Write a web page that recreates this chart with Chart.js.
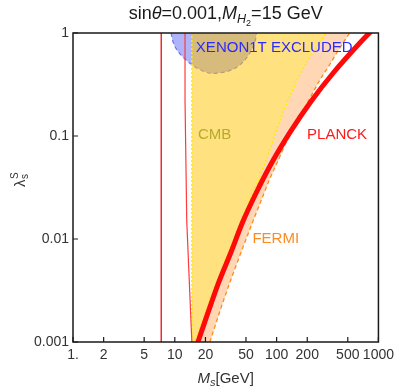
<!DOCTYPE html>
<html>
<head>
<meta charset="utf-8">
<script src="https://cdn.jsdelivr.net/npm/chart.js@4.4.0/dist/chart.umd.min.js"></script>
<style>
  html, body { margin: 0; padding: 0; background: #fff; }
  canvas { display: block; }
</style>
</head>
<body>
<canvas id="chart" width="399" height="388" style="width:399px;height:388px"></canvas>
<script>
const xTicks = [1, 2, 5, 10, 20, 50, 100, 200, 500, 1000];
const xTickLabels = ['1.', '2', '5', '10', '20', '50', '100', '200', '500', '1000'];
const yTicks = [0.001, 0.01, 0.1, 1];
const yTickLabels = ['0.001', '0.01', '0.1', '1'];

// PLANCK bound (thick red curve)
const planckX = [15.6, 16.86, 21.3, 27.1, 35.7, 46.4, 63.6, 90.4, 135.7, 215.8, 366, 670, 815, 1048];
const planckY = [0.0008, 0.001, 0.00196, 0.00383, 0.00748, 0.0146, 0.0286, 0.0559, 0.109, 0.214, 0.418, 0.818, 1.0, 1.28];

// CMB region: vertical left edge, curved right edge (bottom -> top)
const cmbEdge = 14.7;
const cmbX = [15.76, 22.1, 29.5, 45.2, 54.1, 66.2, 79.2, 92.7, 108.4, 129.7, 158.7, 203, 304];
const cmbY = [0.001, 0.00256, 0.00535, 0.0153, 0.0239, 0.0374, 0.0585, 0.0914, 0.143, 0.224, 0.350, 0.547, 1.0];

// FERMI edge (orange dashed, bottom -> top)
const fermiX = [22.1, 30.2, 39.5, 59.2, 70.8, 84.7, 104, 127, 162, 208, 266, 340, 405, 521];
const fermiY = [0.001, 0.00256, 0.00535, 0.0153, 0.0239, 0.0374, 0.0585, 0.0914, 0.143, 0.224, 0.350, 0.511, 0.684, 1.0];

// XENON1T excluded blob
const xenonX = [9.2, 9.62, 10.5, 12.0, 14.4, 17.2, 21.6, 27.0, 33.8, 42.3, 50.6, 57.9, 61.9, 63.3];
const xenonY = [1, 0.818, 0.684, 0.585, 0.500, 0.447, 0.409, 0.409, 0.428, 0.479, 0.572, 0.715, 0.855, 1];

// thin red lines
const wallX = [7.36, 7.36];
const wallY = [0.001, 1];
const thinX = [12.6, 12.6, 13.1, 14.7];
const thinY = [1, 0.22, 0.015, 0.001];

const labelText = ['XENON1T EXCLUDED', 'CMB', 'PLANCK', 'FERMI'];
const labelX = [16.1, 16.9, 199, 57.9];
const labelY = [0.715, 0.102, 0.102, 0.0100];
const labelColors = ['#2b2bff', '#b5ab2a', '#ff1a1a', '#ff8a1e'];

const FONT = '"Liberation Sans", Arial, sans-serif';
Chart.defaults.font.family = FONT;

function pts(xs, ys) {
  return xs.map((x, i) => ({ x: x, y: ys[i] }));
}

function series(data, opts) {
  return Object.assign({
    data: data,
    showLine: true,
    pointRadius: 0,
    pointHoverRadius: 0,
    borderWidth: 1.5,
    fill: false,
    clip: 0,
    tension: 0
  }, opts);
}

const yMin = yTicks[0], yMax = yTicks[yTicks.length - 1];
const xenonShape = pts(xenonX, xenonY);
const fermiShape = pts(cmbX, cmbY).concat(pts(fermiX, fermiY).reverse());
const cmbShape = [{ x: cmbEdge, y: yMin }, { x: cmbEdge, y: yMax }].concat(pts(cmbX, cmbY).reverse());

function fontOf(size, italic) {
  return (italic ? 'italic ' : '') + size + 'px ' + FONT;
}

// parts: [text, size, italic, shift]
function richText(ctx, parts, x, y) {
  let w = 0;
  parts.forEach(p => { ctx.font = fontOf(p[1], p[2]); w += ctx.measureText(p[0]).width; });
  let cx = x - w / 2;
  parts.forEach(p => {
    ctx.font = fontOf(p[1], p[2]);
    ctx.fillText(p[0], cx, y + (p[3] || 0));
    cx += ctx.measureText(p[0]).width;
  });
}

const decorations = {
  id: 'decorations',
  afterDatasetsDraw(chart) {
    const { ctx, chartArea: area, scales } = chart;
    const xs = scales.x, ys = scales.y;
    ctx.save();

    ctx.font = fontOf(15, false);
    ctx.textBaseline = 'middle';
    ctx.textAlign = 'left';
    labelText.forEach((t, i) => {
      ctx.fillStyle = labelColors[i];
      ctx.fillText(t, xs.getPixelForValue(labelX[i]), ys.getPixelForValue(labelY[i]));
    });

    // frame
    ctx.strokeStyle = '#1a1a1a';
    ctx.lineWidth = 1.5;
    ctx.strokeRect(area.left, area.top, area.right - area.left, area.bottom - area.top);

    // inward ticks
    ctx.lineWidth = 1.2;
    ctx.beginPath();
    xTicks.forEach(v => {
      const p = xs.getPixelForValue(v);
      ctx.moveTo(p, area.bottom);
      ctx.lineTo(p, area.bottom - 5);
    });
    yTicks.forEach(v => {
      const p = ys.getPixelForValue(v);
      ctx.moveTo(area.left, p);
      ctx.lineTo(area.left + 5, p);
    });
    ctx.stroke();

    // titles
    ctx.fillStyle = '#1a1a1a';
    ctx.textBaseline = 'alphabetic';
    const cx = (area.left + area.right) / 2;
    richText(ctx, [['sin', 18], ['θ', 18, true], ['=0.001,', 18], ['M', 18, true],
      ['H', 12.5, true, 4], ['2', 9, false, 7.5], ['=15 GeV', 18]], cx, 18.5);

    ctx.fillStyle = '#333';
    richText(ctx, [['M', 15, true], ['s', 11, true, 3], ['[GeV]', 15]], cx, 383);

    // y title, rotated
    ctx.translate(25, 179);
    ctx.rotate(-Math.PI / 2);
    ctx.font = fontOf(15, false);
    const lw = ctx.measureText('λ').width;
    ctx.fillText('λ', -8, 0);
    ctx.font = fontOf(10, false);
    ctx.fillText('S', -8 + lw + 0.5, -7);
    ctx.fillText('s', -8 + lw + 0.5, 3);
    ctx.restore();
  }
};

new Chart(document.getElementById('chart').getContext('2d'), {
  type: 'scatter',
  data: {
    datasets: [
      series(pts(planckX, planckY), { borderColor: '#ff0a0a', borderWidth: 5, cubicInterpolationMode: 'monotone', order: 1 }),
      series(pts(wallX, wallY), { borderColor: '#f22a2a', borderWidth: 1.5, order: 2 }),
      series(pts(thinX, thinY), { borderColor: '#ff3a3a', borderWidth: 1.2, order: 3 }),
      series(pts(fermiX, fermiY), { borderColor: '#ff8c1a', borderWidth: 1.3, borderDash: [4, 3], cubicInterpolationMode: 'monotone', order: 4 }),
      series(cmbShape, { backgroundColor: 'rgba(255,195,0,0.5)', borderColor: '#ffec00', borderWidth: 1.5, borderDash: [2, 2], fill: 'shape', order: 5 }),
      series(fermiShape, { backgroundColor: '#ffd7b5', borderWidth: 0, fill: 'shape', order: 6 }),
      series(xenonShape, { backgroundColor: 'rgba(95,105,245,0.5)', borderColor: 'rgba(100,105,235,0.9)', borderWidth: 1.2, borderDash: [4, 3], fill: 'shape', tension: 0.35, order: 7 })
    ]
  },
  options: {
    responsive: false,
    animation: false,
    events: [],
    layout: { padding: { top: 33, right: 18, left: 0, bottom: 0 } },
    plugins: { legend: { display: false }, tooltip: { enabled: false }, title: { display: false } },
    scales: {
      x: {
        type: 'logarithmic',
        min: 1,
        max: 1000,
        afterBuildTicks: s => { s.ticks = xTicks.map(v => ({ value: v })); },
        afterFit: s => { s.height = 46; },
        grid: { display: false, drawTicks: false },
        border: { display: false },
        ticks: {
          autoSkip: false, maxRotation: 0, minRotation: 0, padding: 5,
          color: '#333', font: { size: 14 },
          callback: (v, i) => xTickLabels[i]
        }
      },
      y: {
        type: 'logarithmic',
        min: yMin,
        max: yMax,
        afterBuildTicks: s => { s.ticks = yTicks.map(v => ({ value: v })); },
        afterFit: s => { s.width = 73; },
        grid: { display: false, drawTicks: false },
        border: { display: false },
        ticks: {
          autoSkip: false, padding: 4,
          color: '#333', font: { size: 14 },
          callback: (v, i) => yTickLabels[i]
        }
      }
    }
  },
  plugins: [decorations]
});
</script>
</body>
</html>
